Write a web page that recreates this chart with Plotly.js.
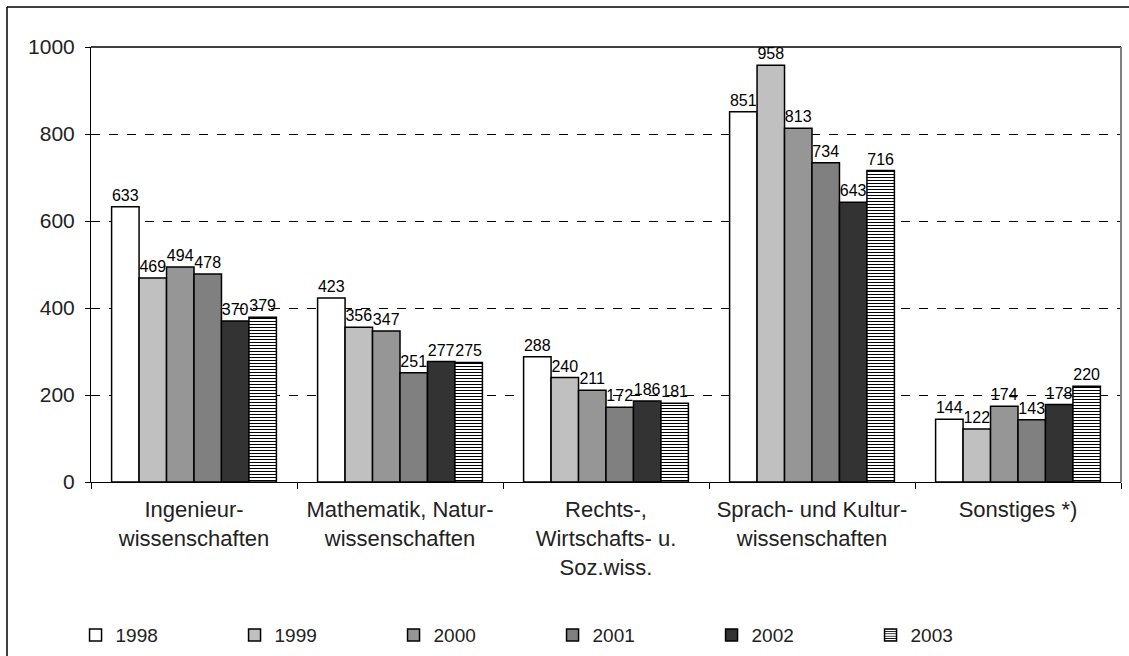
<!DOCTYPE html>
<html>
<head>
<meta charset="utf-8">
<script src="https://cdn.plot.ly/plotly-3.0.1.min.js"></script>
<style>html,body{margin:0;padding:0;background:#fff;}#chart{width:1129px;height:656px;}</style>
</head>
<body>
<div id="chart"></div>
<script>
const categories = [
  "Ingenieur-<br>wissenschaften",
  "Mathematik, Natur-<br>wissenschaften",
  "Rechts-,<br>Wirtschafts- u.<br>Soz.wiss.",
  "Sprach- und Kultur-<br>wissenschaften",
  "Sonstiges *)"
];
const years = ["1998", "1999", "2000", "2001", "2002", "2003"];
const v1998 = [633, 423, 288, 851, 144];
const v1999 = [469, 356, 240, 958, 122];
const v2000 = [494, 347, 211, 813, 174];
const v2001 = [478, 251, 172, 734, 143];
const v2002 = [370, 277, 186, 643, 178];
const v2003 = [379, 275, 181, 716, 220];
const seriesValues = [v1998, v1999, v2000, v2001, v2002, v2003];
const yTicks = [0, 200, 400, 600, 800, 1000];

const fills = ["#ffffff", "#c0c0c0", "#969696", "#808080", "#333333", "#ffffff"];
const font = "Liberation Sans, Arial, sans-serif";

const traces = years.map((yr, i) => {
  const marker = {color: fills[i], line: {color: "#000", width: 1.5}};
  if (i === 5) {
    marker.pattern = {shape: "-", fgcolor: "#000", bgcolor: "#fff", size: 3, solidity: 0.35};
  }
  return {
    type: "bar",
    name: yr,
    x: categories,
    y: seriesValues[i],
    marker: marker,
    text: seriesValues[i].map(String),
    textposition: "outside",
    textfont: {family: font, size: 16, color: "#000"},
    constraintext: "none",
    cliponaxis: false,
    hoverinfo: "skip"
  };
});

const layout = {
  width: 1129, height: 656,
  margin: {l: 91, r: 8, t: 47, b: 174, autoexpand: false},
  paper_bgcolor: "#fff", plot_bgcolor: "#fff",
  barmode: "group",
  bargap: 0.2, bargroupgap: 0,
  showlegend: true,
  font: {family: font, color: "#000"},
  xaxis: {
    type: "category", automargin: false,
    showline: true, linecolor: "#000", linewidth: 1,
    ticks: "outside", tickson: "boundaries", ticklen: 6, tickcolor: "#000",
    ticklabelstandoff: 8,
    tickfont: {family: font, size: 22, color: "#222"},
    showgrid: false, zeroline: false
  },
  yaxis: {
    range: [0, 1000], tickvals: yTicks, automargin: false,
    showline: true, linecolor: "#000", linewidth: 1,
    ticks: "outside", ticklen: 5, tickcolor: "#000",
    ticklabelstandoff: 6,
    tickfont: {family: font, size: 21, color: "#222"},
    showgrid: true, gridcolor: "#000", gridwidth: 1, griddash: "dash",
    zeroline: false
  },
  legend: {
    orientation: "h", x: -0.015, xanchor: "left",
    y: -0.352, yanchor: "middle",
    entrywidth: 114, entrywidthmode: "pixels",
    font: {family: font, size: 19, color: "#222"},
    traceorder: "normal"
  },
  shapes: [
    {type: "line", xref: "paper", yref: "paper", x0: 0, x1: 1, y0: 1, y1: 1, line: {color: "#000", width: 1.5}},
    {type: "line", xref: "paper", yref: "paper", x0: 1, x1: 1, y0: 0, y1: 1, line: {color: "#808080", width: 2}},
    {type: "line", xref: "paper", yref: "paper", x0: -84/1030, x1: 1.1, y0: 475/435, y1: 475/435, line: {color: "#000", width: 1.5}},
    {type: "line", xref: "paper", yref: "paper", x0: -84/1030, x1: -84/1030, y0: -0.5, y1: 475/435, line: {color: "#000", width: 1.5}}
  ]
};

Plotly.newPlot("chart", traces, layout, {displayModeBar: false, staticPlot: true});
</script>
</body>
</html>
